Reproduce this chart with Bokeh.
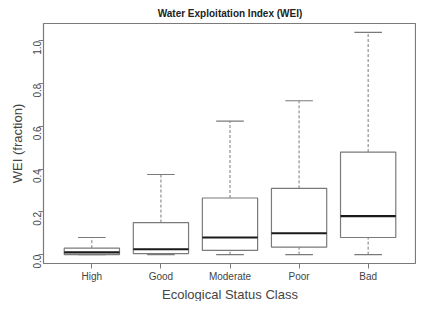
import math
from bokeh.plotting import figure
from bokeh.models import FixedTicker, PrintfTickFormatter, ColumnDataSource, Title
from bokeh.embed import file_html
from bokeh.resources import INLINE

categories = ["High", "Good", "Moderate", "Poor", "Bad"]
positions = [1, 2, 3, 4, 5]
lower_whisker = [0.0, 0.0, 0.0, 0.0, 0.0]
q1 = [0.0, 0.005, 0.02, 0.035, 0.08]
median = [0.01, 0.025, 0.08, 0.10, 0.18]
q3 = [0.03, 0.15, 0.265, 0.31, 0.48]
upper_whisker = [0.08, 0.375, 0.625, 0.72, 1.04]
y_ticks = [0.0, 0.2, 0.4, 0.6, 0.8, 1.0]

box_w = 0.8
cap_w = 0.4
src = ColumnDataSource(dict(
    x=positions, lo=lower_whisker, q1=q1, med=median, q3=q3, hi=upper_whisker,
    bl=[x - box_w / 2 for x in positions], br=[x + box_w / 2 for x in positions],
    cl=[x - cap_w / 2 for x in positions], cr=[x + cap_w / 2 for x in positions],
))

FONT = "Liberation Sans"
GRAY = "#7a7a7a"
TEXT = "#444444"
Y0, Y1 = -0.0416, 1.0816

p = figure(width=416, height=301, output_backend="svg", toolbar_location=None,
           x_range=(0.3, 5.7), y_range=(Y0, Y1),
           title="Water Exploitation Index (WEI)",
           min_border_left=43, min_border_right=0, min_border_top=23, min_border_bottom=0)

# whiskers
p.segment("x", "q3", "x", "hi", source=src, line_color=GRAY, line_dash="3 2", line_width=1)
p.segment("x", "lo", "x", "q1", source=src, line_color=GRAY, line_dash="3 2", line_width=1)
# caps
p.segment("cl", "hi", "cr", "hi", source=src, line_color=GRAY, line_width=1.2)
p.segment("cl", "lo", "cr", "lo", source=src, line_color=GRAY, line_width=1.2)
# boxes
p.quad(left="bl", right="br", bottom="q1", top="q3", source=src,
       fill_color="white", line_color=GRAY, line_width=1.2)
# medians
p.segment("bl", "med", "br", "med", source=src, line_color="#1a1a1a", line_width=2.2)

p.title.align = "center"
p.title.text_font = FONT
p.title.text_font_size = "10px"
p.title.text_font_style = "bold"
p.title.text_color = "#222222"
p.title.standoff = 10

p.outline_line_color = GRAY
p.outline_line_width = 1.2
p.xgrid.visible = False
p.ygrid.visible = False

for ax in (p.xaxis[0], p.yaxis[0]):
    ax.axis_line_color = None
    ax.major_tick_line_color = GRAY
    ax.minor_tick_line_color = None
    ax.major_tick_out = 5
    ax.major_tick_in = 0
    ax.major_label_text_font = FONT
    ax.major_label_text_font_size = "10px"
    ax.major_label_text_color = TEXT
    ax.axis_label_text_font = FONT
    ax.axis_label_text_font_style = "normal"
    ax.axis_label_text_color = TEXT

p.xaxis.ticker = FixedTicker(ticks=positions)
p.xaxis.major_label_overrides = {pos: c for pos, c in zip(positions, categories)}
p.xaxis.major_label_standoff = 2

# x-axis title placed under the tick labels
p.add_layout(Title(text="Ecological Status Class", align="center", text_font=FONT,
                   text_font_size="13px", text_font_style="normal", text_color=TEXT,
                   standoff=0), "below")

p.yaxis.ticker = FixedTicker(ticks=y_ticks)
p.yaxis.formatter = PrintfTickFormatter(format="%.1f")
p.yaxis.major_label_orientation = math.pi / 2
p.yaxis.axis_label = "WEI (fraction)"
p.yaxis.axis_label_text_font_size = "13px"
p.yaxis.axis_label_standoff = 2
p.yaxis.major_label_standoff = 1

open("out.html", "w").write(file_html(p, INLINE))
